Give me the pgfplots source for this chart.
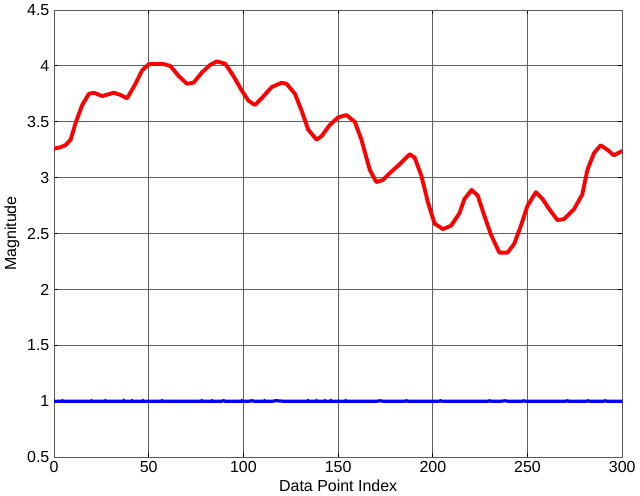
\documentclass[border=0pt]{standalone}
\usepackage{pgfplots}
\pgfplotsset{compat=1.18}
\usepackage{fontspec}
\setmainfont{Liberation Sans}
\begin{document}
\begin{tikzpicture}
\begin{axis}[
    scale only axis,
    width=427pt, height=336pt,
    xmin=0, xmax=300, ymin=0.5, ymax=4.5,
    xtick={0,50,...,300},
    ytick={0.5,1,...,4.5},
    yticklabels={0.5,1,1.5,2,2.5,3,3.5,4,4.5},
    grid=major,
    major grid style={gray!75!black, line width=0.6pt},
    axis line style={gray!70!black, line width=0.6pt},
    tick style={black, line width=0.6pt},
    tick align=inside,
    major tick length=3pt,
    xlabel={Data Point Index}, ylabel={Magnitude},
    font=\fontsize{12}{14}\selectfont,
    /pgf/number format/assume math mode=true,
    xlabel style={yshift=2pt},
    ylabel style={yshift=-1pt},
]
\addplot[red, line width=2.9pt, line join=round] coordinates {
(0,3.26) (3,3.27) (6,3.29) (8.8,3.34) (11.4,3.49) (14.9,3.65) (18.4,3.75)
(21,3.76) (25.4,3.73) (31.6,3.76) (35.1,3.74) (38.6,3.71) (43,3.84)
(46.5,3.96) (50,4.015) (57,4.02) (61.4,4.0) (65.8,3.91) (70.2,3.84)
(73.7,3.85) (78,3.94) (82.5,4.01) (86,4.04) (90.4,4.02) (94.7,3.91)
(99.1,3.78) (102.6,3.69) (106.1,3.65) (109.6,3.71) (114.9,3.81)
(120.2,3.85) (122.8,3.84) (127.2,3.75) (130.7,3.60) (134.2,3.43)
(138.6,3.34) (141.2,3.37) (145.5,3.47) (150,3.54) (154.4,3.56)
(158.8,3.50) (162.3,3.34) (166.7,3.07) (170.2,2.96) (173.7,2.98)
(177.2,3.04) (182.5,3.12) (187.7,3.21) (190.4,3.18) (193.9,3.02)
(197.4,2.78) (200.9,2.59) (205.3,2.54) (209.6,2.57) (214,2.68)
(216.7,2.81) (220.5,2.89) (223.7,2.84) (227.2,2.66) (230.7,2.49)
(235.1,2.33) (239.5,2.33) (243,2.41) (246.5,2.57) (250,2.75)
(254.4,2.87) (257.9,2.81) (261.4,2.72) (265.8,2.62) (269.3,2.63)
(274.6,2.72) (278.9,2.85) (281.6,3.07) (285.1,3.22) (288.6,3.29)
(292.1,3.25) (295.6,3.20) (300,3.24)
};
\addplot[blue, line width=2.4pt] coordinates {
(0,1) (4,1) (4.4,1.004) (5,1) (19.5,1) (19.8,1.004) (20.2,1) (27,1)
(27.2,1.004) (27.5,1) (36.6,1) (36.8,1.004) (37,1) (41,1) (41.2,1.004)
(41.5,1) (46.8,1) (47,1.004) (47.3,1) (56.5,1) (57,1.005) (57.5,1)
(77.5,1) (78,1.005) (78.5,1) (83,1) (83.3,1.004) (83.6,1) (88.4,1)
(89.5,1.005) (90.6,1) (98.8,1) (99.1,1.004) (99.4,1) (103,1)
(104.4,1.005) (105.6,1) (110.8,1) (111.1,1.004) (111.4,1) (115.5,1)
(117,1.005) (121.3,1) (134,1) (134.2,1.004) (134.5,1) (138.4,1)
(138.6,1.004) (138.9,1) (142.8,1) (143,1.004) (143.3,1) (146,1)
(146.2,1.004) (146.5,1) (153.8,1) (154,1.004) (154.3,1) (170,1)
(172,1.004) (174,1) (185,1) (186,1.004) (187,1) (203,1) (204,1.004)
(205,1) (229,1) (230,1.004) (231,1) (236,1) (238,1.004) (240,1)
(247,1) (248,1.004) (249,1) (270,1) (271,1.004) (272,1) (281,1)
(282,1.004) (283,1) (290,1) (291,1.004) (292,1) (300,1)
};
\end{axis}
\end{tikzpicture}
\end{document}
